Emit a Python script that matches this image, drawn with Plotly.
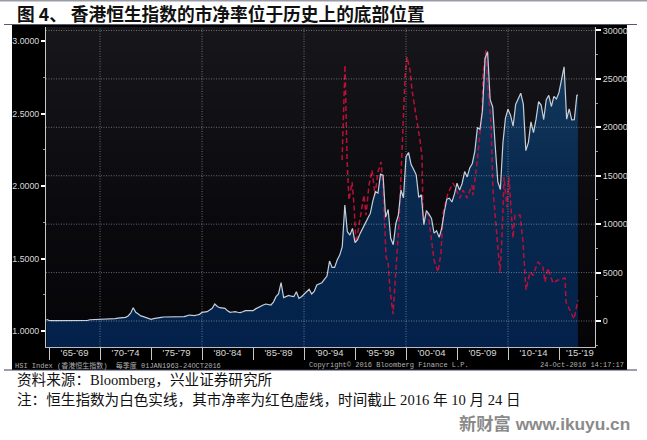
import plotly.graph_objects as go

W, H = 647, 440
hsi = [172,
 50,45,40,40, 40,40,40,40, 40,40,40,40, 45,45,50,50, 130,137,140,145,
 170,175,175,200, 205,215,250,300, 310,345,378,516, 800,1376,900,722,
 520,450,380,300, 170,240,310,345, 380,413,413,413, 413,440,448,448,
 448,448,530,619, 590,550,620,688, 900,930,964,1130, 1307,1754,1500,1376,
 1340,1307,1050,894, 930,964,900,860, 950,1066,1070,1066, 1066,1250,1410,1500,
 1650,1754,1700,1650, 1950,2512,2800,3956, 2408,2500,2649,2560, 2512,3027,2339,2500,
 2786,3000,3268,2786, 3050,3715,3850,3956, 4300,4644,6192,5538, 5538,6295,6800,7671,
 11971,9219,8875,9563, 8084,8400,9047,9500, 10079,10600,11111,12400, 13347,13203,15170,15049,
 10722,11518,8543,7883, 10048,10942,13532,12733, 16962,17406,16155,15648, 15095,12761,13042,9950,
 11397,11032,10598,9072, 9321,8634,9577,11229, 12576,12681,12285,13120, 14230,13516,14201,15428,
 14876,15805,16267,17543, 19965,19800,21772,27142, 27813,22849,22102,18016, 14388,13576,18379,20955,
 21873,21239,20129,22359, 23035,23528,22398,17592, 18434,20556,19441,20840, 22657,22299,20803,22859,
 23306,22151,23191,22933, 23605,24900,26250,20846, 21914,20777,20794,23297, 23374]
hsi_years = [1964.75 + 0.25 * i for i in range(len(hsi) - 1)] + [2016.85]

pb_years = [1993.73,1994.02,1994.22,1994.41,1994.71,1994.90,1995.10,1995.39,1995.69,1995.88,
 1996.08,1996.37,1996.67,1996.96,1997.25,1997.55,1997.75,1997.94,1998.04,1998.24,1998.43,1998.73,
 1999.02,1999.31,1999.61,1999.90,2000.10,2000.39,2000.59,2001.08,2001.37,2001.57,2001.67,2002.16,
 2002.55,2002.75,2003.14,2003.43,2003.63,2004.12,2004.61,2005.29,2005.59,2005.98,2006.47,2006.57,
 2006.96,2007.45,2007.55,2007.84,2008.04,2008.33,2008.53,2008.82,2009.02,2009.22,2009.41,2009.61,
 2009.90,2010.10,2010.49,2010.69,2011.18,2011.47,2011.76,2012.16,2012.45,2012.94,2013.43,2013.63,
 2013.92,2014.41,2014.90,2015.59,2015.69,2016.08,2016.47,2016.86]
pb = [2.179,2.834,2.179,1.903,2.028,1.869,1.607,1.731,1.834,1.938,
 1.800,2.007,2.110,1.938,2.097,2.166,2.007,1.717,1.510,1.476,1.283,1.117,
 1.400,1.745,2.248,2.752,2.890,2.800,2.662,2.455,2.317,2.200,1.766,1.814,
 1.607,1.490,1.407,1.538,1.814,1.952,2.021,1.917,1.972,1.917,2.007,1.938,
 2.159,2.503,2.779,2.938,2.662,2.434,1.972,1.745,1.538,1.400,1.648,2.062,
 1.855,2.062,1.641,1.800,1.800,1.614,1.283,1.407,1.386,1.476,1.441,1.338,
 1.434,1.331,1.352,1.366,1.200,1.145,1.083,1.214]

left_ticks = [1.0, 1.5, 2.0, 2.5, 3.0]
right_ticks = [0, 5000, 10000, 15000, 20000, 25000, 30000]
period_positions = [1967.5,1972.5,1977.5,1982.5,1987.5,1992.5,1997.5,2002.5,2007.5,2012.5,2017.05]
period_labels = ["'65-'69","'70-'74","'75-'79","'80-'84","'85-'89","'90-'94","'95-'99","'00-'04","'05-'09","'10-'14","'15-'19"]
decade_lines = [1970, 1980, 1990, 2000, 2010]

LEFT_RANGE = [0.89, 3.097]
RIGHT_RANGE = [-2686, 30360]
X_RANGE = [1964.7, 2018.53]
SANS = "Liberation Sans, Arial, sans-serif"
MONO = "Liberation Mono, Noto Sans CJK SC, monospace"
TEXT = "Liberation Serif, Noto Sans CJK SC, serif"
CJK = "Noto Sans CJK SC, sans-serif"
TICK = "#d8d8d8"

fig = go.Figure()
fig.add_trace(go.Heatmap(x=X_RANGE, y=LEFT_RANGE, z=[[0, 0], [1, 1]], zsmooth="best", showscale=False,
                         colorscale=[[0, "#050508"], [0.45, "#0b0b0f"], [1, "#17171b"]],
                         hoverinfo="skip", yaxis="y"))
fig.add_trace(go.Scatter(x=hsi_years, y=[RIGHT_RANGE[0]] * len(hsi), mode="lines", line=dict(width=0),
                         hoverinfo="skip", showlegend=False, yaxis="y2"))
fig.add_trace(go.Scatter(x=hsi_years, y=hsi, mode="lines", line=dict(width=0), fill="tonexty",
                         fillgradient=dict(type="vertical", colorscale=[[0, "#03214a"], [0.6, "#0a2b50"], [1, "#143a5e"]]),
                         hoverinfo="skip", showlegend=False, yaxis="y2"))
fig.add_trace(go.Scatter(x=pb_years, y=pb, mode="lines", name="PB",
                         line=dict(color="#b81038", width=1.5, dash="5px,3px"), showlegend=False, yaxis="y3"))
fig.add_trace(go.Scatter(x=hsi_years, y=hsi, mode="lines", name="HSI",
                         line=dict(color="#c4cfda", width=1.2), showlegend=False, yaxis="y4"))

dom_x = [46 / W, 595 / W]
dom_y = [(H - 347) / H, (H - 27) / H]
hidden = dict(overlaying="y", domain=dom_y, visible=False, showgrid=False, zeroline=False)
fig.update_layout(
    width=W, height=H, margin=dict(l=0, r=0, t=0, b=0), paper_bgcolor="white", plot_bgcolor="#0b0b0f",
    showlegend=False, font=dict(family=SANS),
    xaxis=dict(domain=dom_x, range=X_RANGE, tickmode="array", tickvals=period_positions, ticktext=period_labels,
               ticks="", tickfont=dict(family=SANS, size=9.5, color=TICK), showgrid=False, zeroline=False,
               showline=True, linecolor="#b8bcc4", linewidth=1, ticklabelstandoff=-3,
               minor=dict(tick0=1965, dtick=5, ticks="outside", ticklen=12, tickcolor="#c8c8c8", tickwidth=1, showgrid=False)),
    yaxis=dict(domain=dom_y, range=LEFT_RANGE, tickmode="array", tickvals=left_ticks, tickformat=".4f",
               ticks="outside", ticklen=4, tickwidth=2, tickcolor="#ffffff",
               tickfont=dict(family=SANS, size=8.8, color=TICK), showgrid=False, zeroline=False,
               showline=True, linecolor="#c8c8c8", linewidth=1,
               minor=dict(tick0=1.0, dtick=0.25, ticks="outside", ticklen=2, tickcolor="#999999", tickwidth=1, showgrid=False)),
    yaxis2=dict(overlaying="y", side="right", domain=dom_y, range=RIGHT_RANGE, anchor="x", tickmode="array", tickvals=right_ticks,
                ticks="outside", ticklen=5, tickwidth=2, tickcolor="#ffffff", tickformat="d",
                tickfont=dict(family=SANS, size=9, color=TICK), showgrid=False, zeroline=False,
                showline=True, linecolor="#c8c8c8", linewidth=1,
                minor=dict(tick0=0, dtick=2500, ticks="outside", ticklen=2, tickcolor="#999999", tickwidth=1, showgrid=False)),
    yaxis3=dict(range=LEFT_RANGE, **hidden),
    yaxis4=dict(range=RIGHT_RANGE, **hidden),
)

grid = dict(color="rgba(255,255,255,0.38)", width=1, dash="1px,1.5px")
shapes = [
    dict(type="rect", xref="paper", yref="paper", x0=12 / W, x1=627 / W, y0=1 - 370 / H, y1=1 - 25 / H,
         fillcolor="#000000", line_width=0, layer="below"),
    dict(type="rect", xref="paper", yref="paper", x0=0, x1=1, y0=1 - 1.5 / H, y1=1,
         fillcolor="#9a9aa8", line_width=0, layer="below"),
    dict(type="line", xref="paper", yref="paper", x0=4 / W, x1=637 / W, y0=1 - 24.5 / H, y1=1 - 24.5 / H,
         line=dict(color="#555a70", width=1.2), layer="below"),
    dict(type="line", xref="paper", yref="paper", x0=4 / W, x1=637 / W, y0=1 - 370 / H, y1=1 - 370 / H,
         line=dict(color="#3a3e58", width=1.2), layer="below"),
]
for v in right_ticks:
    shapes.append(dict(type="line", xref="x", yref="y2", x0=X_RANGE[0], x1=X_RANGE[1], y0=v, y1=v, line=grid, layer="above"))
for yr in decade_lines:
    shapes.append(dict(type="line", xref="x", yref="y2", x0=yr, x1=yr, y0=RIGHT_RANGE[0], y1=RIGHT_RANGE[1], line=grid, layer="above"))
fig.update_layout(shapes=shapes)

def note(text, px, py, size, color, family, anchor="left", bold=False):
    if bold:
        text = "<b>" + text + "</b>"
    fig.add_annotation(text=text, xref="paper", yref="paper", x=px / W, y=1 - py / H, xanchor=anchor, yanchor="middle",
                       showarrow=False, font=dict(size=size, color=color, family=family), align=anchor)

note("图 4、 香港恒生指数的市净率位于历史上的底部位置", 15, 12.5, 17.7, "#111111", CJK, bold=True)
note("HSI Index (香港恒生指数)  每季度 01JAN1963-24OCT2016", 13, 365, 7, "#b0b0b0", MONO)
note("Copyright© 2016 Bloomberg Finance L.P.", 307, 365, 7, "#b0b0b0", MONO)
note("24-Oct-2016 14:17:17", 626, 365, 7, "#b0b0b0", MONO, anchor="right")
note("资料来源：Bloomberg，兴业证券研究所", 15, 380, 14.6, "#111111", TEXT)
note("注：恒生指数为白色实线，其市净率为红色虚线，时间截止 2016 年 10 月 24 日", 15, 400, 14.6, "#111111", TEXT)
note("新财富 www.ikuyu.cn", 632, 424, 17.3, "#8a8a8a", "Liberation Sans, Noto Sans CJK SC, sans-serif", anchor="right", bold=True)

fig.write_html("out.html", config={"displayModeBar": False},
               post_script="document.body.style.margin='0';")
